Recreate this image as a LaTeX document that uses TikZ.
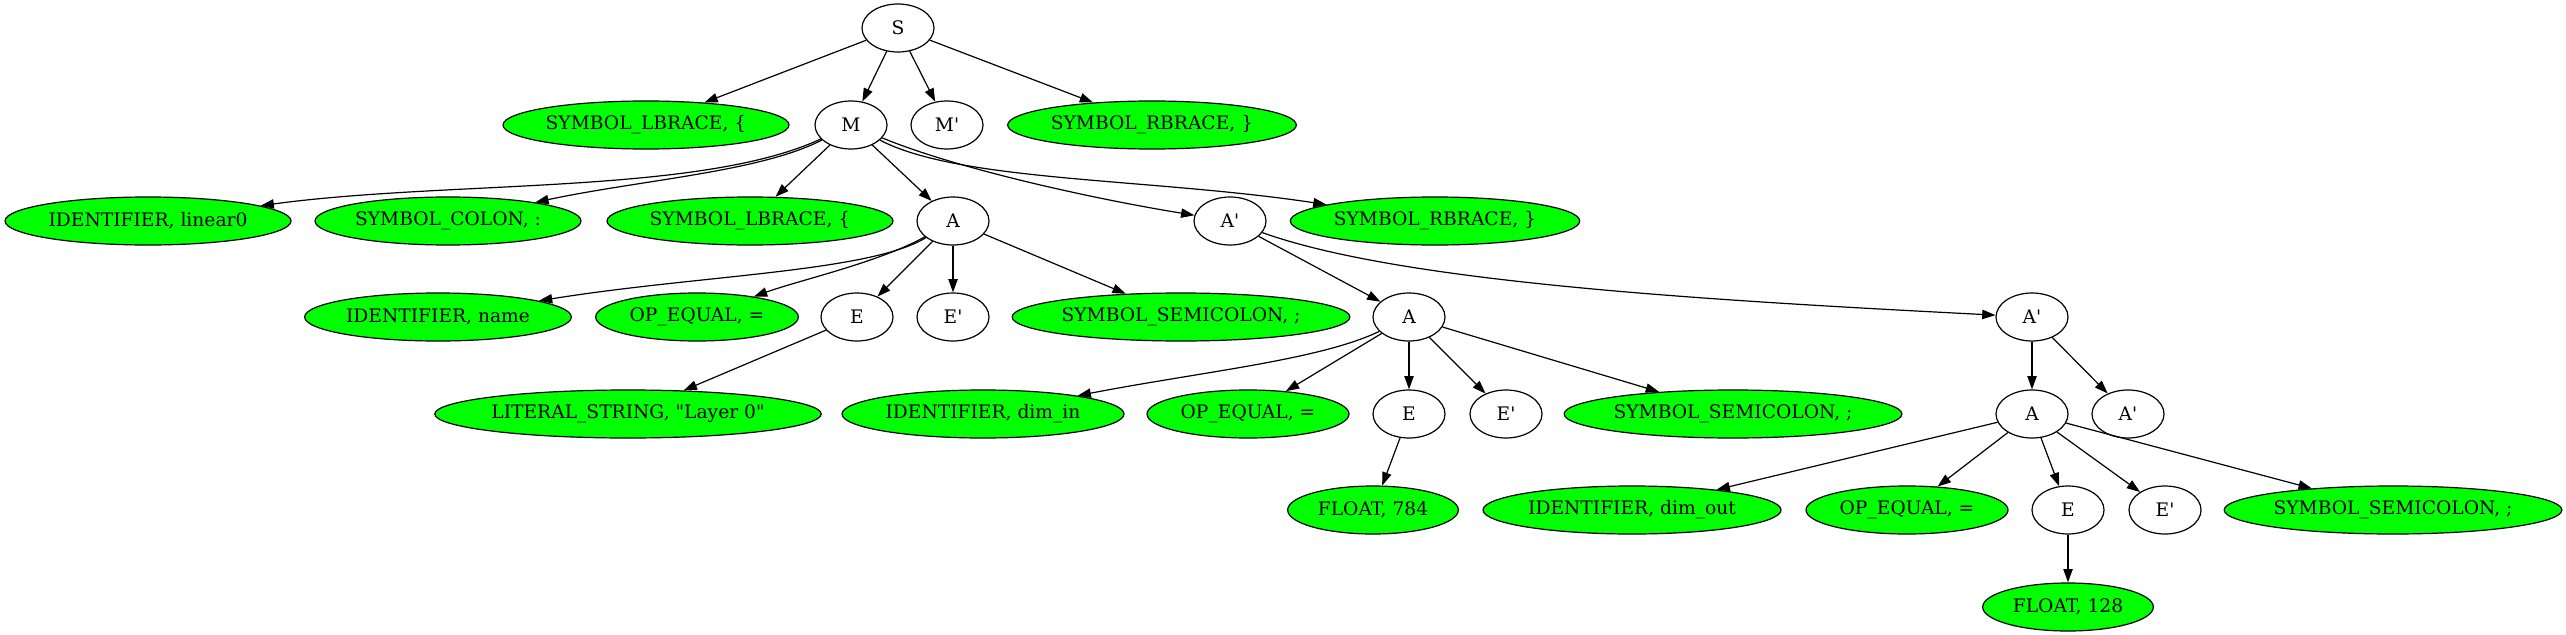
\documentclass[tikz,border=0pt]{standalone}
\usepackage{fontspec}
\setmainfont{DejaVu Serif}[Ligatures=TeXOff]
\usetikzlibrary{shapes.geometric,arrows.meta}
\definecolor{gvgreen}{RGB}{0,255,0}
\tikzset{
  base/.style={draw=black, line width=0.9pt, ellipse, inner sep=0pt,
    minimum height=36pt, font=\fontsize{14}{16}\selectfont, text=black},
  nt/.style={base, fill=white, minimum width=54pt},
  tk/.style={base, fill=gvgreen, minimum width=#1},
  edge/.style={line width=0.9pt, -{Triangle[length=10pt,width=7pt]}},
}
\begin{document}
\begin{tikzpicture}[x=0.75pt,y=-0.75pt]
\useasboundingbox (0,0) rectangle (2566,635);
% row 1
\node[nt] (S) at (898,28) {S};
% row 2
\node[tk=214.5pt] (lb1) at (646,125) {SYMBOL\_LBRACE, \{};
\node[nt] (M) at (851,125) {M};
\node[nt] (Mp) at (947,125) {M'};
\node[tk=216.5pt] (rb1) at (1152,125) {SYMBOL\_RBRACE, \}};
% row 3
\node[tk=214.5pt] (id1) at (148,221) {IDENTIFIER, linear0};
\node[tk=199.5pt] (col) at (448,221) {SYMBOL\_COLON, :};
\node[tk=214.5pt] (lb2) at (750,221) {SYMBOL\_LBRACE, \{};
\node[nt] (A1) at (953,221) {A};
\node[nt] (Ap1) at (1230,221) {A'};
\node[tk=217pt] (rb2) at (1435,221) {SYMBOL\_RBRACE, \}};
% row 4
\node[tk=200pt] (idn) at (438,317) {IDENTIFIER, name};
\node[tk=152pt] (eq1) at (697,317) {OP\_EQUAL, =};
\node[nt] (E1) at (857,317) {E};
\node[nt] (Ep1) at (953,317) {E'};
\node[tk=252pt] (sc1) at (1181,317) {SYMBOL\_SEMICOLON, ;};
\node[nt] (A2) at (1409,317) {A};
\node[nt] (Ap2) at (2032,317) {A'};
% row 5
\node[tk=286pt] (lit) at (628,414) {LITERAL\_STRING, "Layer 0"};
\node[tk=211.5pt] (idin) at (983,414) {IDENTIFIER, dim\_in};
\node[tk=151.5pt] (eq2) at (1248,414) {OP\_EQUAL, =};
\node[nt] (E2) at (1409,414) {E};
\node[nt] (Ep2) at (1506,414) {E'};
\node[tk=253pt] (sc2) at (1733,414) {SYMBOL\_SEMICOLON, ;};
\node[nt] (A3) at (2032,414) {A};
\node[nt] (Ap3) at (2128,414) {A'};
% row 6
\node[tk=128pt] (f784) at (1373,510) {FLOAT, 784};
\node[tk=223.5pt] (idout) at (1632,510) {IDENTIFIER, dim\_out};
\node[tk=151.5pt] (eq3) at (1907,510) {OP\_EQUAL, =};
\node[nt] (E3) at (2068,510) {E};
\node[nt] (Ep3) at (2165,510) {E'};
\node[tk=253pt] (sc3) at (2393,510) {SYMBOL\_SEMICOLON, ;};
% row 7
\node[tk=128pt] (f128) at (2068,607) {FLOAT, 128};
% edges
\draw[edge] (S) -- (lb1);
\draw[edge] (S) -- (M);
\draw[edge] (S) -- (Mp);
\draw[edge] (S) -- (rb1);
\draw[edge] (M) .. controls (700,195) and (450,180) .. (id1);
\draw[edge] (M) .. controls (760,172) and (640,180) .. (col);
\draw[edge] (M) -- (lb2);
\draw[edge] (M) -- (A1);
\draw[edge] (M) .. controls (960,170) and (1100,200) .. (Ap1);
\draw[edge] (M) .. controls (960,182) and (1150,178) .. (rb2);
\draw[edge] (A1) .. controls (870,272) and (700,275) .. (idn);
\draw[edge] (A1) .. controls (880,262) and (800,280) .. (eq1);
\draw[edge] (A1) -- (E1);
\draw[edge] (A1) -- (Ep1);
\draw[edge] (A1) -- (sc1);
\draw[edge] (Ap1) -- (A2);
\draw[edge] (Ap1) .. controls (1400,282) and (1700,300) .. (Ap2);
\draw[edge] (E1) -- (lit);
\draw[edge] (A2) .. controls (1320,360) and (1200,372) .. (idin);
\draw[edge] (A2) -- (eq2);
\draw[edge] (A2) -- (E2);
\draw[edge] (A2) -- (Ep2);
\draw[edge] (A2) -- (sc2);
\draw[edge] (Ap2) -- (A3);
\draw[edge] (Ap2) -- (Ap3);
\draw[edge] (E2) -- (f784);
\draw[edge] (A3) -- (idout);
\draw[edge] (A3) -- (eq3);
\draw[edge] (A3) -- (E3);
\draw[edge] (A3) -- (Ep3);
\draw[edge] (A3) -- (sc3);
\draw[edge] (E3) -- (f128);
\end{tikzpicture}
\end{document}
